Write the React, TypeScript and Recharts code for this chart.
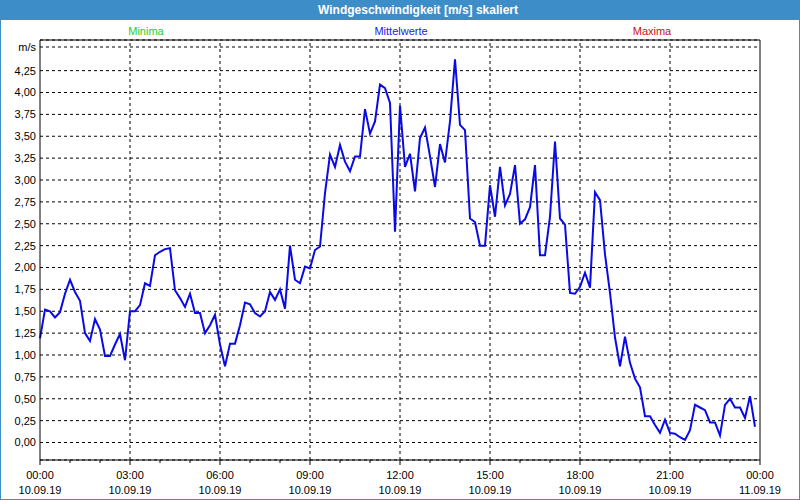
import React from 'react';
import { LineChart, Line, XAxis, YAxis, CartesianGrid, ReferenceLine } from 'recharts';

// minutes since 00:00 on 10.09.19
const minutes = [
  0, 10, 20, 30, 40, 50, 60, 70, 80, 90, 100, 110, 120, 130, 140, 150, 160, 170, 180, 190,
  200, 210, 220, 230, 240, 250, 260, 270, 280, 290, 300, 310, 320, 330, 340, 350, 360, 370, 380, 390,
  400, 410, 420, 430, 440, 450, 460, 470, 480, 490, 500, 510, 520, 530, 540, 550, 560, 570, 580, 590,
  600, 610, 620, 630, 640, 650, 660, 670, 680, 690, 700, 710, 720, 730, 740, 750, 760, 770, 780, 790,
  800, 810, 820, 830, 840, 850, 860, 870, 880, 890, 900, 910, 920, 930, 940, 950, 960, 970, 980, 990,
  1000, 1010, 1020, 1030, 1040, 1050, 1060, 1070, 1080, 1090, 1100, 1110, 1120, 1130, 1140, 1150, 1160, 1170, 1180, 1190,
  1200, 1210, 1220, 1230, 1240, 1250, 1260, 1270, 1280, 1290, 1300, 1310, 1320, 1330, 1340, 1350, 1360, 1370, 1380, 1390,
  1400, 1410, 1420, 1430,
];

// Mittelwerte, m/s
const mittelwerte = [
  1.19, 1.52, 1.5, 1.43, 1.49, 1.7, 1.86, 1.72, 1.62, 1.25, 1.16, 1.41, 1.29, 0.99, 0.99, 1.12, 1.24, 0.94, 1.5, 1.5,
  1.57, 1.82, 1.79, 2.14, 2.18, 2.21, 2.22, 1.74, 1.65, 1.55, 1.7, 1.48, 1.48, 1.25, 1.34, 1.46, 1.12, 0.87, 1.13, 1.13,
  1.34, 1.6, 1.58, 1.48, 1.44, 1.5, 1.72, 1.63, 1.75, 1.53, 2.25, 1.86, 1.82, 2.01, 1.99, 2.2, 2.24, 2.85, 3.29, 3.15,
  3.4, 3.21, 3.1, 3.27, 3.27, 3.81, 3.53, 3.67, 4.09, 4.05, 3.88, 2.41, 3.85, 3.15, 3.3, 2.87, 3.48, 3.6, 3.27, 2.92,
  3.41, 3.2, 3.67, 4.38, 3.63, 3.57, 2.56, 2.52, 2.25, 2.25, 2.94, 2.58, 3.15, 2.71, 2.84, 3.17, 2.5, 2.55, 2.69, 3.17,
  2.14, 2.14, 2.58, 3.44, 2.56, 2.49, 1.71, 1.7, 1.78, 1.94, 1.77, 2.86, 2.77, 2.15, 1.71, 1.2, 0.87, 1.21, 0.91, 0.73,
  0.63, 0.3, 0.3, 0.2, 0.11, 0.26, 0.11, 0.1, 0.06, 0.03, 0.14, 0.43, 0.4, 0.37, 0.23, 0.23, 0.08, 0.43, 0.5, 0.4,
  0.4, 0.28, 0.53, 0.18,
];

const hourTicks = [0, 60, 120, 180, 240, 300, 360, 420, 480, 540, 600, 660, 720, 780, 840, 900, 960, 1020, 1080, 1140, 1200, 1260, 1320, 1380, 1440];
const majorTicks = [0, 180, 360, 540, 720, 900, 1080, 1260, 1440];
const timeLabels = ['00:00', '03:00', '06:00', '09:00', '12:00', '15:00', '18:00', '21:00', '00:00'];
const dateLabels = ['10.09.19', '10.09.19', '10.09.19', '10.09.19', '10.09.19', '10.09.19', '10.09.19', '10.09.19', '11.09.19'];

const yTicks = [0, 0.25, 0.5, 0.75, 1, 1.25, 1.5, 1.75, 2, 2.25, 2.5, 2.75, 3, 3.25, 3.5, 3.75, 4, 4.25, 4.52];
const unitTick = 4.52;

const legendItems = [
  { label: 'Minima', color: '#19d219', x: 146 },
  { label: 'Mittelwerte', color: '#2020e8', x: 401 },
  { label: 'Maxima', color: '#c81010', x: 652 },
];

const data = minutes.map((t, i) => ({ t, v: mittelwerte[i] }));

const FONT = '"Liberation Sans", Arial, sans-serif';
const FRAME = '#3d8ec8';

const TimeTick = (props: any) => {
  const { x, y, payload } = props;
  const idx = majorTicks.indexOf(payload.value);
  const major = idx >= 0;
  return (
    <g>
      <line x1={x} y1={y} x2={x} y2={y + (major ? 5 : 3)} stroke="#000" />
      {major && (
        <text x={x} y={y + 19} textAnchor="middle" fontSize={11} fontFamily={FONT} fill="#000">
          {timeLabels[idx]}
        </text>
      )}
      {major && (
        <text x={x} y={y + 34} textAnchor="middle" fontSize={11} fontFamily={FONT} fill="#000">
          {dateLabels[idx]}
        </text>
      )}
    </g>
  );
};

export default function App() {
  return (
    <div style={{ position: 'absolute', left: 0, top: 0, width: 800, height: 500, background: FRAME, fontFamily: FONT }}>
      <div
        style={{
          position: 'absolute', left: 0, top: 0, width: 800, height: 20, lineHeight: '20px',
          color: '#fff', fontWeight: 'bold', fontSize: 12, textAlign: 'center', paddingLeft: 36, boxSizing: 'border-box',
        }}
      >
        Windgeschwindigkeit [m/s] skaliert
      </div>
      <div style={{ position: 'absolute', left: 1, top: 20, width: 798, height: 479, background: '#fff' }} />
      {legendItems.map((item) => (
        <div
          key={item.label}
          style={{
            position: 'absolute', top: 24, left: item.x - 60, width: 120, textAlign: 'center',
            fontSize: 11, color: item.color, lineHeight: '14px',
          }}
        >
          {item.label}
        </div>
      ))}
      <div style={{ position: 'absolute', left: 0, top: 20 }}>
        <LineChart width={800} height={480} data={data} margin={{ top: 20, right: 40, bottom: 0, left: 0 }}>
          <CartesianGrid vertical={false} stroke="#000" strokeDasharray="3 3" />
          {majorTicks.slice(1, -1).map((m) => (
            <ReferenceLine key={m} x={m} stroke="#000" strokeDasharray="3 3" />
          ))}
          <ReferenceLine y={4.6} stroke="#000" />
          <ReferenceLine x={1440} stroke="#000" />
          <XAxis
            dataKey="t"
            type="number"
            domain={[0, 1440]}
            ticks={hourTicks}
            interval={0}
            height={40}
            tickSize={0}
            tickMargin={0}
            tickLine={false}
            axisLine={{ stroke: '#000' }}
            tick={<TimeTick />}
          />
          <YAxis
            type="number"
            domain={[-0.2, 4.6]}
            ticks={yTicks}
            interval={0}
            width={40}
            tickSize={0}
            tickMargin={4}
            tickLine={false}
            axisLine={{ stroke: '#000' }}
            tick={{ fill: '#000', fontSize: 11, fontFamily: FONT }}
            tickFormatter={(v: number) => (v === unitTick ? 'm/s' : v.toFixed(2).replace('.', ','))}
          />
          <Line
            type="linear"
            dataKey="v"
            stroke="#0a0ae6"
            strokeWidth={2}
            dot={false}
            isAnimationActive={false}
          />
        </LineChart>
      </div>
    </div>
  );
}
